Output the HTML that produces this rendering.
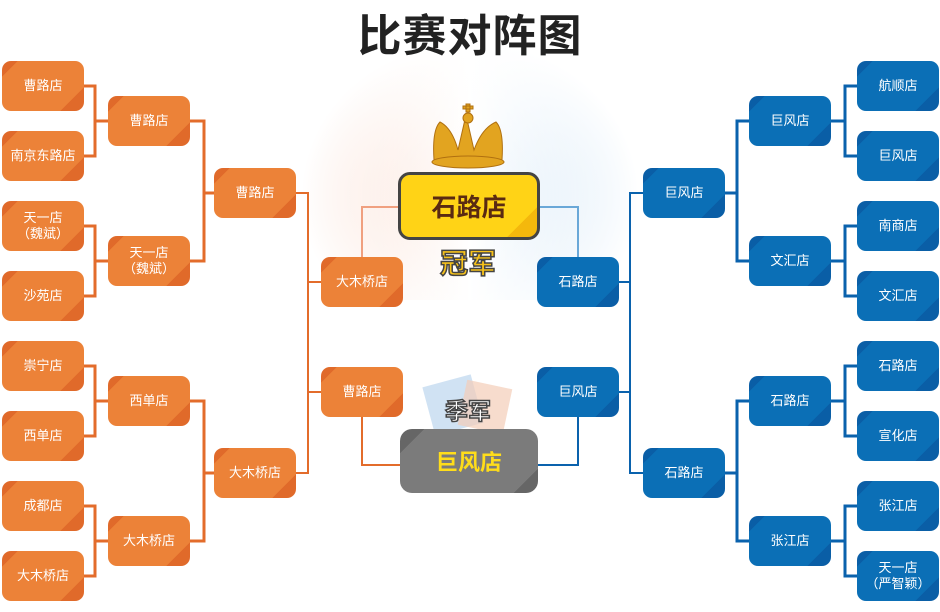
<!DOCTYPE html>
<html><head><meta charset="utf-8"><style>
body{margin:0;width:940px;height:612px;background:#fff;position:relative;overflow:hidden;font-family:"Liberation Sans","Noto Sans CJK SC",sans-serif}
.n{position:absolute;width:82px;height:50px;border-radius:9px;color:#fff;font-size:13px;display:flex;align-items:center;justify-content:center;text-align:center;line-height:16px;overflow:hidden}
.o{background:linear-gradient(135deg,#e06a2a 0,#e06a2a 12%,#ec8238 12%,#ec8238 82%,#e06a2a 82%)}
.b{background:linear-gradient(135deg,#0a5ea6 0,#0a5ea6 12%,#0b6fb6 12%,#0b6fb6 82%,#0a5ea6 82%)}
.n span{position:relative}
.t{position:absolute;left:0;width:940px;top:0px;text-align:center;font-size:44px;font-weight:bold;color:#222;letter-spacing:1px}
</style></head><body>
<div style="position:absolute;left:300px;top:40px;width:340px;height:260px;background:radial-gradient(ellipse at 50% 60%,rgba(255,255,255,0) 20%,rgba(255,255,255,1) 70%),linear-gradient(90deg,rgba(240,150,110,.35),rgba(255,255,255,0) 50%,rgba(120,180,230,.35))"></div>
<div class="t">比赛对阵图</div>
<svg width="940" height="612" style="position:absolute;left:0;top:0">
<g fill="none" stroke="#e36c2b" stroke-width="3">
<path d="M82 86H95V156H82M95 121H108M82 226H95V296H82M95 261H108M82 366H95V436H82M95 401H108M82 506H95V576H82M95 541H108"/>
<path d="M190 121H204V261H190M204 193H214M190 401H204V541H190M204 473H214"/>
</g>
<g fill="none" stroke="#e36c2b" stroke-width="2">
<path d="M296 193H308V473H296M308 282H321M308 392H321"/>
<path d="M362 417V465H400"/>
<path d="M362 257V207H400" stroke="#f0a080"/>
</g>
<g fill="none" stroke="#0a62ad" stroke-width="3">
<path d="M857 86H845V156H857M845 121H831M857 226H845V296H857M845 261H831M857 366H845V436H857M845 401H831M857 506H845V576H857M845 541H831"/>
<path d="M749 121H737V261H749M737 193H725M749 401H737V541H749M737 473H725"/>
</g>
<g fill="none" stroke="#0a62ad" stroke-width="2">
<path d="M643 193H630V473H643M630 282H619M630 392H619"/>
<path d="M578 417V465H538"/>
<path d="M578 257V207H540" stroke="#6aa8d8"/>
</g>
<rect x="428" y="380" width="50" height="50" fill="#bcd6ee" opacity=".7" transform="rotate(-15 453 405)"/>
<rect x="462" y="384" width="46" height="46" fill="#f3cdb8" opacity=".7" transform="rotate(12 485 407)"/>
<g fill="#e2a420" stroke="#b07010" stroke-width="1">
<path d="M434 160 Q432 130 440 122 Q452 128 458 150 L466 115 L474 150 Q482 128 496 122 Q504 130 502 160Z"/>
<ellipse cx="468" cy="162" rx="36" ry="6"/>
<circle cx="468" cy="118" r="5"/>
<path d="M466 104h4v8h-4zM463 106h10v3h-10z"/>
</g>
</svg>
<div style="position:absolute;left:398px;top:172px;width:136px;height:62px;border:3px solid #444;border-radius:12px;background:linear-gradient(135deg,#ffd316 0,#ffd316 85%,#f4b80c 85%);display:flex;align-items:center;justify-content:center;font-size:25px;font-weight:bold;color:#5a2a12">石路店</div>
<div style="position:absolute;left:418px;top:242px;width:100px;text-align:center;font-size:28px;font-weight:bold;color:#f7c21a;-webkit-text-stroke:1.5px #444">冠军</div>
<div style="position:absolute;left:418px;top:392px;width:100px;text-align:center;font-size:23px;font-weight:bold;color:#fff;-webkit-text-stroke:1.5px #444">季军</div>
<div style="position:absolute;left:400px;top:429px;width:138px;height:64px;border-radius:12px;background:linear-gradient(135deg,#666 0,#666 12%,#7b7b7b 12%,#7b7b7b 88%,#666 88%);display:flex;align-items:center;justify-content:center;font-size:22px;font-weight:bold;color:#ffdd1a">巨风店</div>

<div class="n o" style="left:2px;top:61px"><span>曹路店</span></div>
<div class="n o" style="left:2px;top:131px"><span>南京东路店</span></div>
<div class="n o" style="left:2px;top:201px"><span>天一店<br>（魏斌）</span></div>
<div class="n o" style="left:2px;top:271px"><span>沙苑店</span></div>
<div class="n o" style="left:2px;top:341px"><span>崇宁店</span></div>
<div class="n o" style="left:2px;top:411px"><span>西单店</span></div>
<div class="n o" style="left:2px;top:481px"><span>成都店</span></div>
<div class="n o" style="left:2px;top:551px"><span>大木桥店</span></div>
<div class="n o" style="left:108px;top:96px"><span>曹路店</span></div>
<div class="n o" style="left:108px;top:236px"><span>天一店<br>（魏斌）</span></div>
<div class="n o" style="left:108px;top:376px"><span>西单店</span></div>
<div class="n o" style="left:108px;top:516px"><span>大木桥店</span></div>
<div class="n o" style="left:214px;top:168px"><span>曹路店</span></div>
<div class="n o" style="left:214px;top:448px"><span>大木桥店</span></div>
<div class="n o" style="left:321px;top:257px"><span>大木桥店</span></div>
<div class="n o" style="left:321px;top:367px"><span>曹路店</span></div>

<div class="n b" style="left:857px;top:61px"><span>航顺店</span></div>
<div class="n b" style="left:857px;top:131px"><span>巨风店</span></div>
<div class="n b" style="left:857px;top:201px"><span>南商店</span></div>
<div class="n b" style="left:857px;top:271px"><span>文汇店</span></div>
<div class="n b" style="left:857px;top:341px"><span>石路店</span></div>
<div class="n b" style="left:857px;top:411px"><span>宣化店</span></div>
<div class="n b" style="left:857px;top:481px"><span>张江店</span></div>
<div class="n b" style="left:857px;top:551px"><span>天一店<br>（严智颖）</span></div>
<div class="n b" style="left:749px;top:96px"><span>巨风店</span></div>
<div class="n b" style="left:749px;top:236px"><span>文汇店</span></div>
<div class="n b" style="left:749px;top:376px"><span>石路店</span></div>
<div class="n b" style="left:749px;top:516px"><span>张江店</span></div>
<div class="n b" style="left:643px;top:168px"><span>巨风店</span></div>
<div class="n b" style="left:643px;top:448px"><span>石路店</span></div>
<div class="n b" style="left:537px;top:257px"><span>石路店</span></div>
<div class="n b" style="left:537px;top:367px"><span>巨风店</span></div>
</body></html>
